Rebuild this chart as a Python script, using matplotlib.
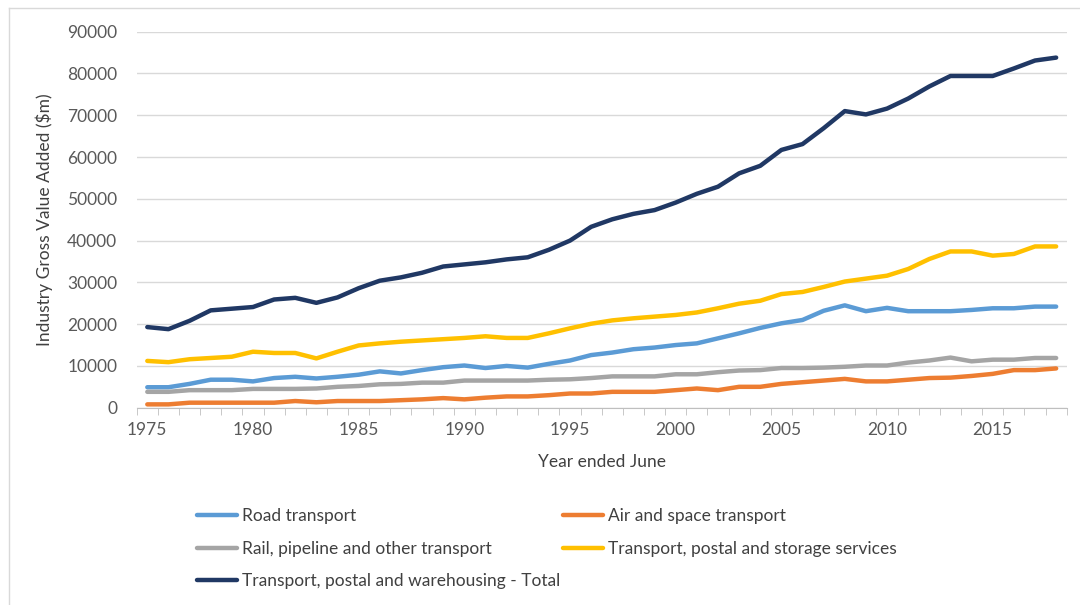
import numpy as np
import matplotlib
matplotlib.use("Agg")
import matplotlib.pyplot as plt
from matplotlib.lines import Line2D

plt.rcParams['font.family'] = ['Lato', 'DejaVu Sans']

# data ($m)
years = list(range(1975, 2019))
road = [4900, 4900, 5700, 6700, 6700, 6300, 7100, 7400, 7000, 7400,
        7900, 8700, 8200, 9000, 9700, 10100, 9500, 10000, 9600, 10500,
        11300, 12600, 13200, 14000, 14400, 15000, 15400, 16600, 17800, 19100,
        20200, 21000, 23200, 24500, 23100, 23900, 23100, 23100, 23100, 23400,
        23800, 23800, 24200, 24200]
air = [800, 800, 1200, 1200, 1200, 1200, 1200, 1600, 1300, 1600,
       1600, 1600, 1800, 2000, 2300, 2000, 2400, 2700, 2700, 3000,
       3400, 3400, 3800, 3800, 3800, 4200, 4600, 4200, 5000, 5000,
       5700, 6100, 6500, 6900, 6300, 6300, 6700, 7100, 7200, 7600,
       8100, 9000, 9000, 9400]
rail = [3800, 3800, 4200, 4200, 4200, 4500, 4500, 4500, 4600, 5000,
        5200, 5600, 5700, 6000, 6000, 6500, 6500, 6500, 6500, 6700,
        6800, 7100, 7500, 7500, 7500, 8000, 8000, 8500, 8900, 9000,
        9500, 9500, 9600, 9800, 10100, 10100, 10800, 11300, 12000, 11100,
        11500, 11500, 11900, 11900]
services = [11200, 10900, 11600, 11900, 12200, 13400, 13100, 13100, 11800, 13400,
            14900, 15400, 15800, 16100, 16400, 16700, 17100, 16700, 16700, 17800,
            19000, 20100, 20900, 21400, 21800, 22200, 22800, 23800, 24900, 25600,
            27200, 27700, 28900, 30200, 30900, 31600, 33200, 35600, 37400, 37400,
            36400, 36800, 38600, 38600]
total = [19300, 18800, 20800, 23300, 23700, 24100, 25900, 26300, 25100, 26400,
         28600, 30400, 31200, 32300, 33800, 34300, 34800, 35500, 36000, 37800,
         40000, 43300, 45100, 46400, 47300, 49100, 51200, 52900, 56100, 57900,
         61700, 63100, 66900, 71000, 70200, 71600, 74000, 76900, 79400, 79400,
         79400, 81200, 83100, 83800]

series = [
    ("Road transport", road, "#5B9BD5"),
    ("Air and space transport", air, "#ED7D31"),
    ("Rail, pipeline and other transport", rail, "#A5A5A5"),
    ("Transport, postal and storage services", services, "#FFC000"),
    ("Transport, postal and warehousing - Total", total, "#203864"),
]

fs = 12.5
fig = plt.figure(figsize=(10.8, 6.05), dpi=100)
ax = fig.add_axes([0.1266, 0.3261, 0.8611, 0.6215])

handles = {}
for name, vals, col in series:
    h, = ax.plot(years, vals, color=col, lw=3.2, solid_capstyle='round',
                 solid_joinstyle='round', label=name)
    handles[name] = h

ax.set_xlim(1974.5, 2018.5)
ax.set_ylim(0, 90000)
ax.set_yticks(np.arange(0, 90001, 10000))
ax.set_xticks(range(1975, 2016, 5))
ax.set_xticks(np.arange(1974.5, 2019, 1), minor=True)
ax.grid(axis='y', color='#D9D9D9', lw=1)
ax.set_axisbelow(True)
for s in ['top', 'right', 'left']:
    ax.spines[s].set_visible(False)
ax.spines['bottom'].set_color('#BFBFBF')
ax.tick_params(axis='y', length=0, labelsize=fs, labelcolor='#595959', pad=14)
ax.tick_params(axis='x', which='major', length=0, labelsize=fs,
               labelcolor='#595959', pad=10)
ax.tick_params(axis='x', which='minor', length=5, color='#BFBFBF')

ax.set_xlabel("Year ended June", fontsize=fs, color='#404040', labelpad=12)
ax.set_ylabel("Industry Gross Value Added ($m)", fontsize=fs, color='#404040',
              labelpad=10)

order = ["Road transport", "Rail, pipeline and other transport",
         "Transport, postal and warehousing - Total",
         "Air and space transport", "Transport, postal and storage services"]
fig.legend([handles[n] for n in order], order, ncol=2, frameon=False,
           loc='upper left', bbox_to_anchor=(0.1676, 0.186),
           fontsize=fs, labelcolor='#404040', handlelength=2.3,
           handletextpad=0.3, columnspacing=0.15, labelspacing=0.95)

# outer chart frame (clipped by the image edge on right and bottom)
fig.add_artist(Line2D([9 / 1080, 9 / 1080], [0, 1 - 8 / 605],
                      transform=fig.transFigure, color='#D9D9D9', lw=1))
fig.add_artist(Line2D([9 / 1080, 1], [1 - 8 / 605, 1 - 8 / 605],
                      transform=fig.transFigure, color='#D9D9D9', lw=1))

fig.savefig("out.png", dpi=100)
